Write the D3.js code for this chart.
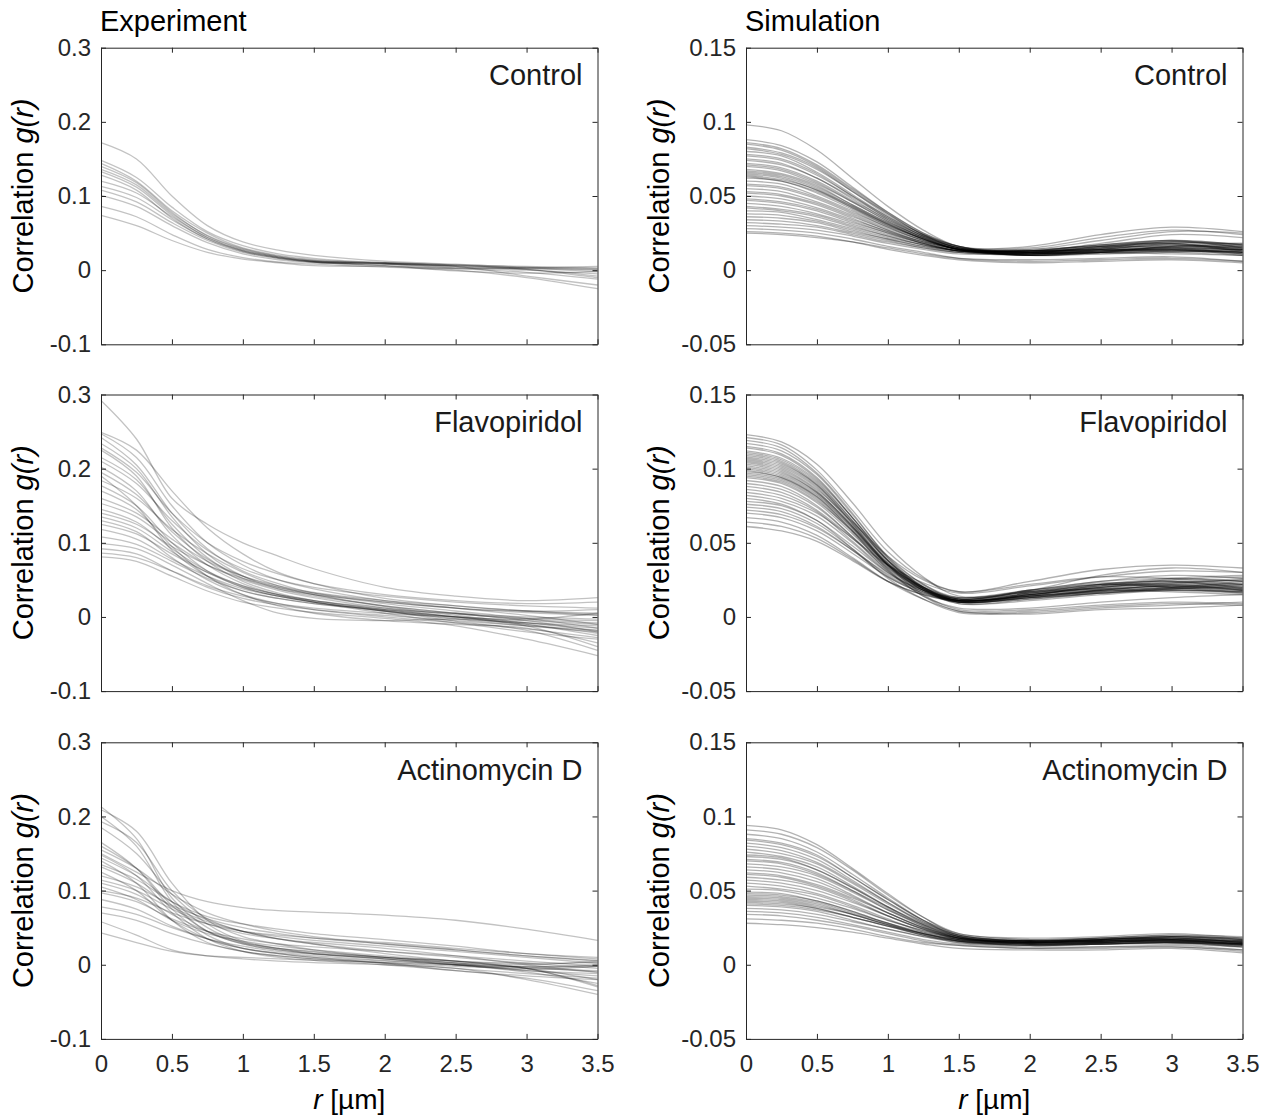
<!DOCTYPE html>
<html>
<head>
<meta charset="utf-8">
<script src="https://cdn.jsdelivr.net/npm/d3@7"></script>
<style>
  body { margin: 0; background: #fff; }
  text { font-family: "Helvetica Neue", Helvetica, "Liberation Sans", Arial, sans-serif; }
</style>
</head>
<body>
<div id="chart"></div>
<script>
const rGrid = [0, 0.25, 0.5, 0.75, 1, 1.25, 1.5, 2, 2.5, 3, 3.5];

// g(r) values, in thousandths, one row per curve
const expControl = [
  [172,150,100,60,38,27,20,12,8,4,2],
  [148,125,85,52,33,22,16,10,6,3,0],
  [144,120,80,50,30,20,14,9,4,2,-2],
  [140,118,78,46,28,18,12,8,3,0,-5],
  [133,112,74,44,27,18,12,9,5,1,-8],
  [128,108,70,42,25,16,11,8,6,3,1],
  [113,98,68,42,26,17,12,10,7,1,-10],
  [108,92,64,40,24,16,11,6,-1,-4,-2],
  [101,86,60,37,22,14,10,9,5,-8,-20],
  [86,72,48,28,17,11,8,4,0,-10,-25],
  [74,60,40,24,15,10,6,5,2,3,5],
  [120,104,72,44,26,17,11,6,2,-3,-12],
  [136,115,76,47,29,19,13,10,7,5,3]
];

const expFlavo = [
  [292,240,160,125,100,82,65,40,28,22,26],
  [249,225,170,120,85,60,45,25,15,8,5],
  [247,215,150,100,70,50,38,22,12,2,-10],
  [242,205,140,92,62,45,32,18,8,-2,-15],
  [234,200,135,85,55,38,28,15,5,-5,-20],
  [225,190,120,75,48,32,22,10,0,-10,-25],
  [215,185,125,80,52,38,30,20,12,8,10],
  [202,170,110,70,45,30,20,5,-8,-20,-30],
  [195,165,115,78,55,40,30,15,5,-3,-8],
  [184,160,118,85,60,42,30,14,2,-8,-18],
  [177,150,100,62,40,28,20,8,-3,-12,-20],
  [170,145,95,55,30,15,5,-5,-10,-15,-35],
  [153,135,100,70,50,36,26,12,0,-12,-40],
  [135,120,88,60,40,28,20,8,-2,-10,-22],
  [130,115,80,50,30,18,10,0,-8,-16,-28],
  [125,112,85,60,42,30,22,12,4,-2,-5],
  [108,98,75,52,35,25,18,10,5,0,-3],
  [99,92,70,45,22,5,-2,-5,-3,-8,-12],
  [92,85,62,40,25,16,10,2,-5,-12,-18],
  [86,80,62,42,28,18,12,5,0,-3,5],
  [81,75,55,35,20,12,6,-2,-12,-30,-52],
  [160,140,105,75,55,42,33,22,15,8,3],
  [210,180,130,90,65,50,40,28,20,15,12],
  [145,128,92,62,42,30,22,10,0,-5,-10],
  [190,150,90,55,35,25,18,8,0,-8,-15],
  [118,105,78,55,38,28,20,8,-6,-18,-45],
  [228,195,140,100,75,58,45,30,22,18,20],
  [140,125,95,70,52,40,32,20,12,6,2]
];

const expActD = [
  [213,170,90,50,30,22,18,10,2,-8,-15],
  [209,180,110,60,38,28,20,10,5,-5,-20],
  [200,160,85,45,28,20,15,8,0,-10,-25],
  [193,165,100,62,45,35,28,15,5,-3,-10],
  [150,125,100,85,77,73,71,67,60,48,33],
  [155,130,95,70,55,45,38,28,20,12,5],
  [144,120,85,60,45,35,28,18,10,2,-5],
  [132,110,78,58,45,38,33,25,18,10,2],
  [114,100,75,55,42,35,30,22,12,0,-10],
  [97,85,62,45,35,28,24,18,12,5,-2],
  [78,68,50,35,25,18,14,8,2,-5,-30],
  [58,40,20,12,8,5,3,0,-5,-20,-40],
  [43,30,18,12,10,8,6,3,0,-3,-2],
  [165,130,75,40,22,15,10,5,0,-8,-12],
  [140,110,60,30,18,12,8,3,-2,-5,-8],
  [125,100,60,35,22,16,12,6,0,-3,0],
  [105,88,60,42,32,25,20,12,5,0,5],
  [88,75,52,35,22,15,10,2,-8,-15,-20],
  [120,105,80,62,50,42,36,28,20,12,6],
  [135,115,85,65,55,48,42,34,25,15,8],
  [148,120,70,35,18,10,6,0,-8,-18,-35],
  [70,60,42,28,18,12,8,2,-5,-12,-18],
  [185,150,95,55,32,22,15,8,0,-6,-2],
  [160,130,80,45,28,20,15,10,5,2,3],
  [100,90,70,55,45,40,36,30,22,15,10],
  [110,95,68,45,30,22,17,10,3,-5,-28]
];

const simControl = [
  [98,94,81,62,43,27,16,15,22,27,24],
  [88,84,73,56,39,25,16,12,16,20,17],
  [86,82,71,55,39,25,16,11,13,15,14],
  [85,81,70,54,38,24,16,13,17,18,12],
  [83,79,69,53,38,24,16,10,12,14,11],
  [82,78,68,53,37,24,15,14,20,26,25],
  [80,77,66,51,36,24,15,13,14,13,12],
  [78,75,65,50,36,23,15,11,14,17,15],
  [77,74,64,50,35,23,15,12,12,11,10],
  [75,72,62,49,35,23,15,16,24,29,26],
  [74,71,62,48,34,23,15,10,11,13,14],
  [72,69,60,47,34,22,15,12,15,16,13],
  [71,68,59,46,33,22,14,13,13,14,16],
  [70,67,58,46,33,22,14,11,16,19,17],
  [68,65,57,44,32,22,14,12,14,15,12],
  [67,64,56,44,32,21,14,10,12,16,18],
  [66,63,55,43,31,21,14,13,17,20,15],
  [65,62,54,43,31,21,14,12,11,12,13],
  [64,61,54,42,31,21,14,11,14,17,14],
  [63,60,53,42,30,21,14,14,16,15,11],
  [62,60,52,41,30,21,14,13,18,24,22],
  [60,58,50,40,29,20,14,10,13,14,12],
  [58,56,49,39,29,20,14,13,15,19,16],
  [57,55,48,38,28,20,14,11,12,13,14],
  [55,53,46,37,27,19,14,12,16,17,13],
  [53,51,45,36,27,19,14,10,14,18,18],
  [52,50,44,35,26,19,13,13,13,14,12],
  [50,48,42,34,26,18,13,11,15,19,15],
  [48,46,41,33,25,18,13,12,12,13,11],
  [47,45,40,32,25,18,13,13,17,20,17],
  [45,43,38,31,24,18,13,11,13,15,14],
  [43,41,37,30,23,17,13,12,14,14,10],
  [42,40,36,29,23,17,13,10,12,16,16],
  [40,39,34,28,22,17,13,12,15,18,14],
  [38,37,33,27,21,16,13,13,14,13,12],
  [36,35,32,26,21,16,12,11,13,16,15],
  [34,33,30,25,20,15,12,10,12,15,17],
  [32,31,29,24,19,15,12,12,16,18,13],
  [30,29,27,23,18,14,11,11,12,12,10],
  [28,27,25,21,16,12,8,6,7,8,6],
  [26,25,23,19,14,10,7,5,6,7,5],
  [25,24,22,19,15,11,8,7,8,9,6]
];

const simFlavo = [
  [123,118,103,77,48,27,14,18,28,33,30],
  [121,116,99,72,44,26,17,24,32,35,33],
  [119,114,97,70,40,20,10,14,22,26,28],
  [117,112,96,69,41,22,12,16,20,24,22],
  [115,110,94,67,38,19,9,12,16,20,22],
  [114,109,93,67,39,20,11,15,19,22,18],
  [112,107,92,67,40,22,13,18,24,26,24],
  [111,106,91,65,38,19,10,13,18,22,25],
  [110,105,90,65,38,20,11,16,22,20,17],
  [109,104,89,63,35,15,5,5,8,10,9],
  [108,103,89,64,38,21,12,17,21,25,27],
  [107,102,88,63,37,20,11,14,18,19,20],
  [106,101,87,62,36,19,10,15,20,23,21],
  [105,100,86,64,41,25,17,22,27,26,24],
  [104,99,85,61,35,18,9,11,15,18,17],
  [103,98,84,61,36,19,11,16,22,24,19],
  [102,97,84,61,36,20,12,17,19,21,23],
  [101,96,83,60,35,18,10,13,17,20,18],
  [100,95,82,60,35,19,11,15,21,23,25],
  [99,94,81,58,32,14,4,4,7,9,8],
  [98,94,81,59,35,20,12,18,24,28,26],
  [97,93,80,58,34,19,11,14,17,19,16],
  [96,92,79,57,33,18,10,15,20,22,20],
  [95,91,78,58,35,20,13,17,23,21,19],
  [94,90,77,56,34,18,11,13,16,19,21],
  [92,88,75,54,31,14,6,6,10,13,15],
  [90,86,74,54,33,19,12,16,21,25,22],
  [88,84,72,53,32,18,11,15,19,20,24],
  [86,82,71,51,31,17,10,13,18,21,18],
  [84,80,70,53,35,23,16,21,27,31,30],
  [82,78,68,50,30,17,11,14,17,18,16],
  [80,76,65,46,26,12,3,3,6,8,10],
  [78,75,65,48,30,18,12,17,22,24,20],
  [76,73,63,46,28,17,11,15,20,23,26],
  [74,71,61,45,27,16,10,13,16,18,17],
  [72,69,60,45,29,18,13,18,22,20,18],
  [70,67,58,43,27,16,11,14,18,21,19],
  [67,64,55,40,24,12,4,2,5,6,8],
  [64,61,53,39,24,15,10,12,16,19,22],
  [61,58,51,38,24,15,11,14,18,17,15]
];

const simActD = [
  [94,91,81,65,48,32,20,17,18,20,17],
  [91,88,79,64,47,32,21,18,19,21,18],
  [88,85,76,61,45,30,19,15,16,18,15],
  [85,82,74,59,44,30,20,16,17,19,16],
  [84,81,73,59,44,30,21,17,18,17,14],
  [82,79,71,57,42,28,19,14,15,16,13],
  [80,77,69,56,42,29,19,15,17,19,18],
  [78,75,68,55,41,29,20,16,16,17,15],
  [76,73,66,53,39,27,18,14,15,17,14],
  [74,72,64,52,39,27,19,15,17,18,16],
  [73,71,64,52,39,28,20,16,18,20,19],
  [71,69,62,50,37,26,18,14,14,15,12],
  [70,68,61,50,38,26,18,15,16,17,16],
  [68,66,60,49,37,27,19,16,17,19,17],
  [66,64,58,47,35,25,17,14,15,16,14],
  [64,62,56,46,35,25,18,15,16,18,15],
  [62,60,54,45,35,25,19,16,17,16,14],
  [61,59,53,44,33,24,17,13,14,15,13],
  [59,57,52,43,33,24,18,15,16,17,16],
  [57,55,50,42,33,24,18,16,18,19,18],
  [55,53,48,40,31,22,16,13,14,15,12],
  [53,51,47,39,30,23,17,15,15,16,14],
  [51,50,45,38,30,23,18,16,17,18,15],
  [49,48,43,36,28,21,16,14,15,16,15],
  [48,47,43,36,28,21,17,15,16,17,13],
  [47,46,42,35,28,22,18,16,16,17,16],
  [46,45,41,34,27,20,16,13,14,14,12],
  [45,44,40,34,27,21,16,15,15,17,15],
  [44,43,39,34,27,21,17,16,17,18,17],
  [43,42,38,32,26,20,15,14,14,15,13],
  [42,41,38,32,26,20,16,15,16,15,14],
  [41,40,37,32,26,21,17,16,17,19,17],
  [40,39,36,30,24,19,15,13,14,15,14],
  [38,37,34,29,24,19,16,14,15,16,14],
  [36,35,32,27,22,17,14,12,12,13,10],
  [34,33,30,26,21,16,13,11,11,12,9],
  [31,30,28,24,19,15,13,11,12,12,10],
  [28,27,25,22,18,14,11,10,10,11,8]
];

const xTicks = [0, 0.5, 1, 1.5, 2, 2.5, 3, 3.5];
const expYTicks = [-0.1, 0, 0.1, 0.2, 0.3];
const simYTicks = [-0.05, 0, 0.05, 0.1, 0.15];
const conditions = ["Control", "Flavopiridol", "Actinomycin D"];
const columnTitles = ["Experiment", "Simulation"];

const svgWidth = 1271;
const svgHeight = 1118;

const plotW = 496.5;
const plotH = 296.6;
const colX = [101, 746];
const rowY = [47.7, 394.5, 742.3];
const axisColor = "#262626";

const svg = d3.select("#chart")
    .append("svg")
    .attr("width", svgWidth)
    .attr("height", svgHeight);

const panels = [
    { col: 0, row: 0, curves: expControl, yTicks: expYTicks, opacity: 0.24 },
    { col: 0, row: 1, curves: expFlavo, yTicks: expYTicks, opacity: 0.24 },
    { col: 0, row: 2, curves: expActD, yTicks: expYTicks, opacity: 0.24 },
    { col: 1, row: 0, curves: simControl, yTicks: simYTicks, opacity: 0.3 },
    { col: 1, row: 1, curves: simFlavo, yTicks: simYTicks, opacity: 0.3 },
    { col: 1, row: 2, curves: simActD, yTicks: simYTicks, opacity: 0.3 }
];

const xScale = d3.scaleLinear().domain([0, 3.5]).range([0, plotW]);

panels.forEach(p => {
    const g = svg.append("g")
        .attr("transform", `translate(${colX[p.col]}, ${rowY[p.row]})`);

    const yScale = d3.scaleLinear()
        .domain(d3.extent(p.yTicks))
        .range([plotH, 0]);

    const line = d3.line()
        .x((d, i) => xScale(rGrid[i]))
        .y(d => yScale(d / 1000))
        .curve(d3.curveCatmullRom.alpha(0.5));

    g.append("g")
        .selectAll("path")
        .data(p.curves)
        .enter()
        .append("path")
        .attr("d", line)
        .attr("fill", "none")
        .attr("stroke", "#000")
        .attr("stroke-opacity", p.opacity)
        .attr("stroke-width", 1.3);

    // box with inward ticks on all four sides
    const fmtY = d => String(d);
    g.append("g")
        .call(d3.axisLeft(yScale).tickValues(p.yTicks).tickFormat(fmtY)
            .tickSize(-5).tickSizeOuter(0).tickPadding(10));
    g.append("g")
        .attr("transform", `translate(${plotW}, 0)`)
        .call(d3.axisRight(yScale).tickValues(p.yTicks).tickFormat("")
            .tickSize(-5).tickSizeOuter(0));
    g.append("g")
        .call(d3.axisTop(xScale).tickValues(xTicks).tickFormat("")
            .tickSize(-5).tickSizeOuter(0));
    g.append("g")
        .attr("transform", `translate(0, ${plotH})`)
        .call(d3.axisBottom(xScale).tickValues(xTicks)
            .tickFormat(p.row === 2 ? (d => String(d)) : "")
            .tickSize(-5).tickSizeOuter(0).tickPadding(16));

    g.selectAll(".domain, .tick line")
        .attr("stroke", axisColor)
        .attr("stroke-width", 1);
    g.selectAll(".tick text")
        .attr("fill", axisColor)
        .style("font-size", "24px")
        .style("font-family", null);

    // condition name
    g.append("text")
        .attr("x", plotW - 15)
        .attr("y", 37.5)
        .attr("text-anchor", "end")
        .attr("fill", "#1a1a1a")
        .style("font-size", "29px")
        .text(conditions[p.row]);

    // y label
    const yl = g.append("text")
        .attr("transform", `translate(${p.col === 0 ? -68 : -77}, ${plotH / 2}) rotate(-90)`)
        .attr("text-anchor", "middle")
        .attr("fill", "#000")
        .style("font-size", "29px");
    yl.append("tspan").text("Correlation ");
    yl.append("tspan").style("font-style", "italic").text("g(r)");

    if (p.row === 0) {
        g.append("text")
            .attr("x", -1)
            .attr("y", -17)
            .attr("fill", "#000")
            .style("font-size", "29px")
            .text(columnTitles[p.col]);
    }

    if (p.row === 2) {
        const xl = g.append("text")
            .attr("x", plotW / 2)
            .attr("y", plotH + 70)
            .attr("text-anchor", "middle")
            .attr("fill", "#000")
            .style("font-size", "28px");
        xl.append("tspan").style("font-style", "italic").text("r");
        xl.append("tspan").text(" [µm]");
    }
});
</script>
</body>
</html>
